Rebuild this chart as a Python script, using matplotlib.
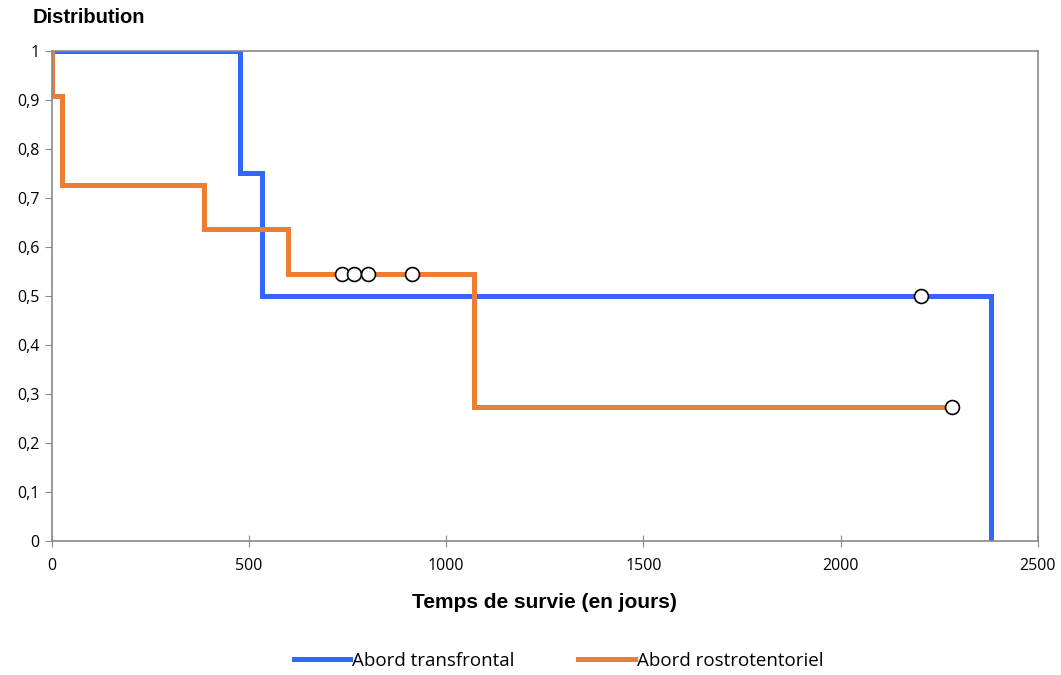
import matplotlib
matplotlib.use('Agg')
import matplotlib.pyplot as plt
from matplotlib.ticker import FuncFormatter

# survival curves (Kaplan-Meier steps)
blue_t = [0, 477, 532, 2382]
blue_s = [1, 0.75, 0.5, 0]
blue_end = 2382
blue_cens_t = [2205]
blue_cens_s = [0.5]

orange_t = [0, 0, 25, 386, 599, 1071]
orange_s = [1, 0.909, 0.727, 0.636, 0.545, 0.273]
orange_end = 2283
orange_cens_t = [735, 767, 802, 913, 2283]
orange_cens_s = [0.545, 0.545, 0.545, 0.545, 0.273]

labels = ['Abord transfrontal', 'Abord rostrotentoriel']
colors = ['#3366FF', '#ED7D31']

fig = plt.figure(figsize=(10.61, 6.75), dpi=100)
ax = fig.add_axes([0.049, 0.1985, 0.929, 0.726])

ax.step(blue_t + [blue_end], blue_s + [blue_s[-1]], where='post',
        color=colors[0], lw=3.6, label=labels[0], solid_joinstyle='miter')
ax.step(orange_t + [orange_end], orange_s + [orange_s[-1]], where='post',
        color=colors[1], lw=3.6, label=labels[1], solid_joinstyle='miter')

ax.plot(blue_cens_t, blue_cens_s, 'o', ms=10, mfc='white', mec='black', mew=1.2, zorder=5)
ax.plot(orange_cens_t, orange_cens_s, 'o', ms=10, mfc='white', mec='black', mew=1.2, zorder=5)

ax.set_xlim(0, 2500)
ax.set_ylim(0, 1)
ax.set_xticks(range(0, 2501, 500))
ax.set_yticks([i / 10 for i in range(11)])


def fmt(v, pos):
    if abs(v) < 1e-9:
        return '0'
    if abs(v - 1) < 1e-9:
        return '1'
    return ('%.1f' % v).replace('.', ',')


ax.yaxis.set_major_formatter(FuncFormatter(fmt))
for s in ax.spines.values():
    s.set_color('#898989')
    s.set_linewidth(1.2)
ax.tick_params(axis='x', direction='inout', length=8, color='#898989', labelsize=11.5, pad=8)
ax.tick_params(axis='y', direction='out', length=5, color='#898989', labelsize=11.5, pad=4)
for lab in ax.get_xticklabels() + ax.get_yticklabels():
    lab.set_family('Open Sans')

ax.set_xlabel('Temps de survie (en jours)', fontsize=15, fontweight='bold',
              family='Liberation Sans', labelpad=14)
fig.text(0.031, 0.974, 'Distribution', fontsize=14.5, fontweight='bold',
         family='Liberation Sans', va='center', ha='left')

leg = fig.legend(loc='center', bbox_to_anchor=(0.5265, 0.021), ncol=2, frameon=False,
                 handlelength=3.0, handletextpad=0.1, columnspacing=3.4,
                 prop={'family': 'Open Sans', 'size': 13.5})

fig.savefig('out.png', dpi=100)
